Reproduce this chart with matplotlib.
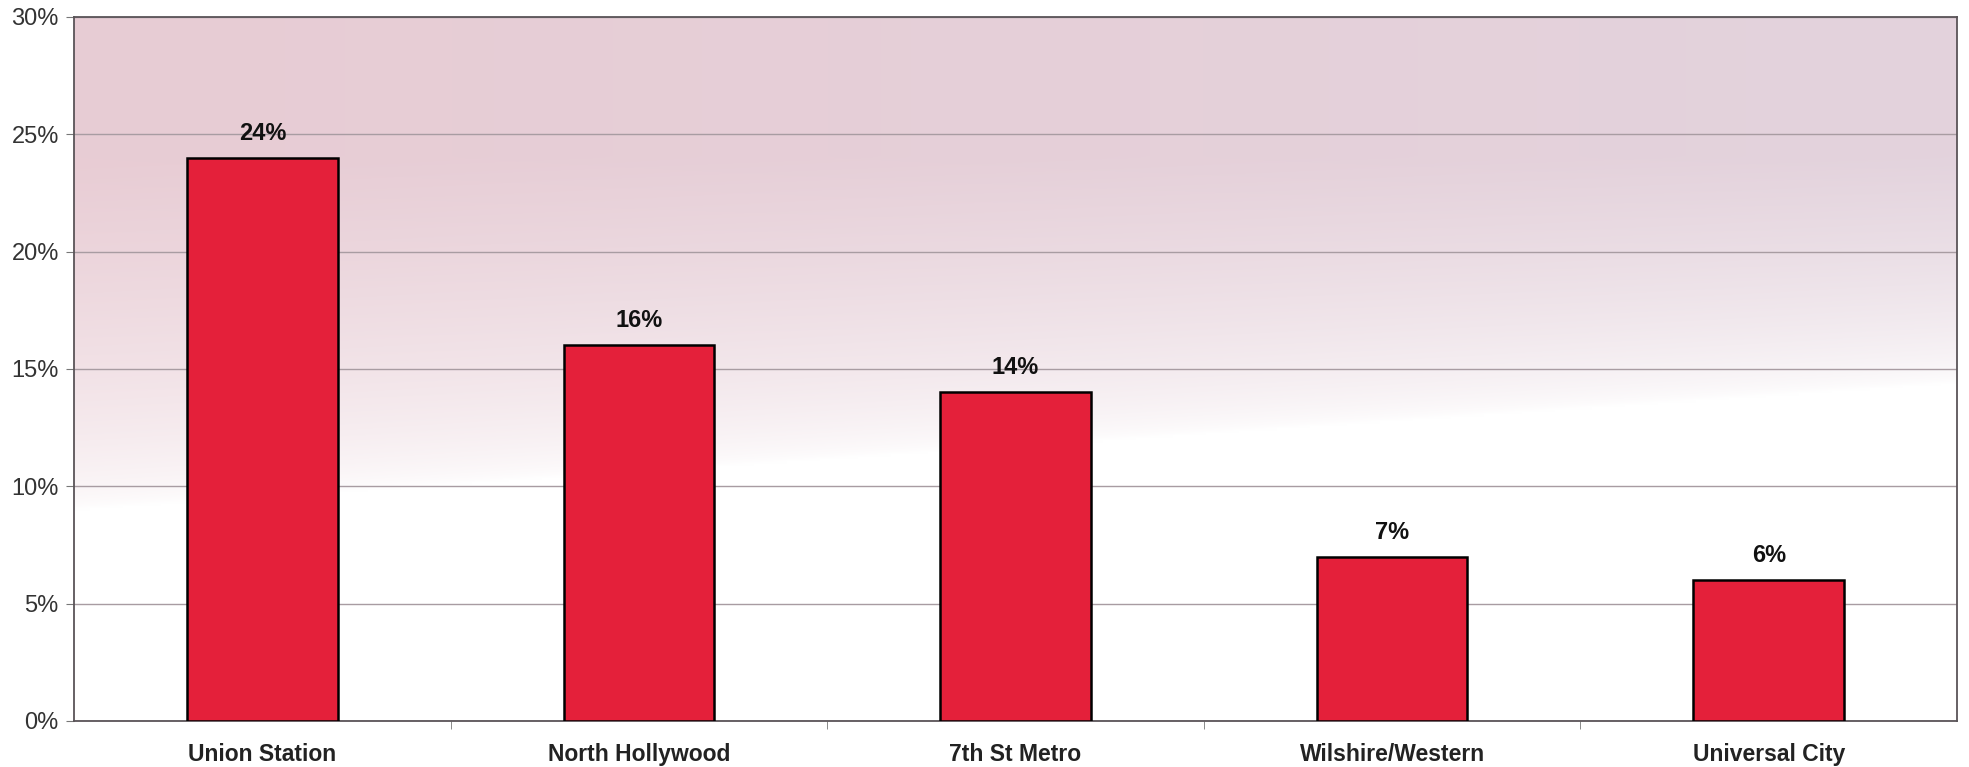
import numpy as np
import matplotlib
matplotlib.use("Agg")
import matplotlib.pyplot as plt
from matplotlib.ticker import FixedLocator

plt.rcParams['font.family'] = ['Liberation Sans', 'DejaVu Sans']

stations = ["Union Station", "North Hollywood", "7th St Metro", "Wilshire/Western", "Universal City"]
shares = [24, 16, 14, 7, 6]
y_ticks = [0, 5, 10, 15, 20, 25, 30]

fig = plt.figure(figsize=(19.69, 7.67), dpi=100)
ax = fig.add_axes([0.0376, 0.060, 0.9563, 0.918])

x = np.arange(len(stations))
ax.set_xlim(-0.5, len(stations) - 0.5)
ax.set_ylim(0, 30)

# pink-to-white backdrop, fading out lower on the left than on the right
ny, nx = 300, 400
yy = np.linspace(0, 1, ny)[:, None]
xx = np.linspace(0, 1, nx)[None, :]
fade_start = 0.30 + 0.18 * xx
t = np.clip((yy - fade_start) / (0.80 - fade_start), 0, 1) ** 0.6
top_left = np.array([232, 204, 212]) / 255.0
top_right = np.array([227, 211, 221]) / 255.0
top = top_left[None, None, :] * (1 - xx[..., None]) + top_right[None, None, :] * xx[..., None]
img = 1 - t[..., None] * (1 - top)
ax.imshow(img, extent=(-0.5, len(stations) - 0.5, 0, 30), origin='lower',
          aspect='auto', zorder=0, interpolation='bilinear')

ax.yaxis.grid(True, color='#a89ca2', linewidth=1.0, zorder=1)
ax.set_axisbelow(True)

bars = ax.bar(x, shares, width=0.40, color='#e4203a', edgecolor='black',
              linewidth=1.8, zorder=3)
for xi, v in zip(x, shares):
    ax.annotate(f"{v}%", (xi, v), xytext=(0, 13), textcoords='offset points',
                ha='center', va='baseline', fontsize=17, fontweight='bold',
                color='#111111', zorder=4)

ax.set_yticks(y_ticks)
ax.set_yticklabels([f"{v}%" for v in y_ticks], fontsize=17, color='#333333')
ax.set_xticks(x)
ax.set_xticklabels(stations, fontsize=16.5, fontweight='bold', color='#222222')
ax.tick_params(axis='x', which='major', length=0, pad=16)
ax.xaxis.set_minor_locator(FixedLocator(np.arange(0.5, len(stations) - 0.5, 1)))
ax.tick_params(axis='x', which='minor', length=6, color='#777777')
ax.tick_params(axis='y', length=6, color='#777777', pad=5)

for side in ['left', 'right', 'top', 'bottom']:
    ax.spines[side].set_color('#5a5458')
    ax.spines[side].set_linewidth(1.3)

fig.savefig("out.png", dpi=100)
